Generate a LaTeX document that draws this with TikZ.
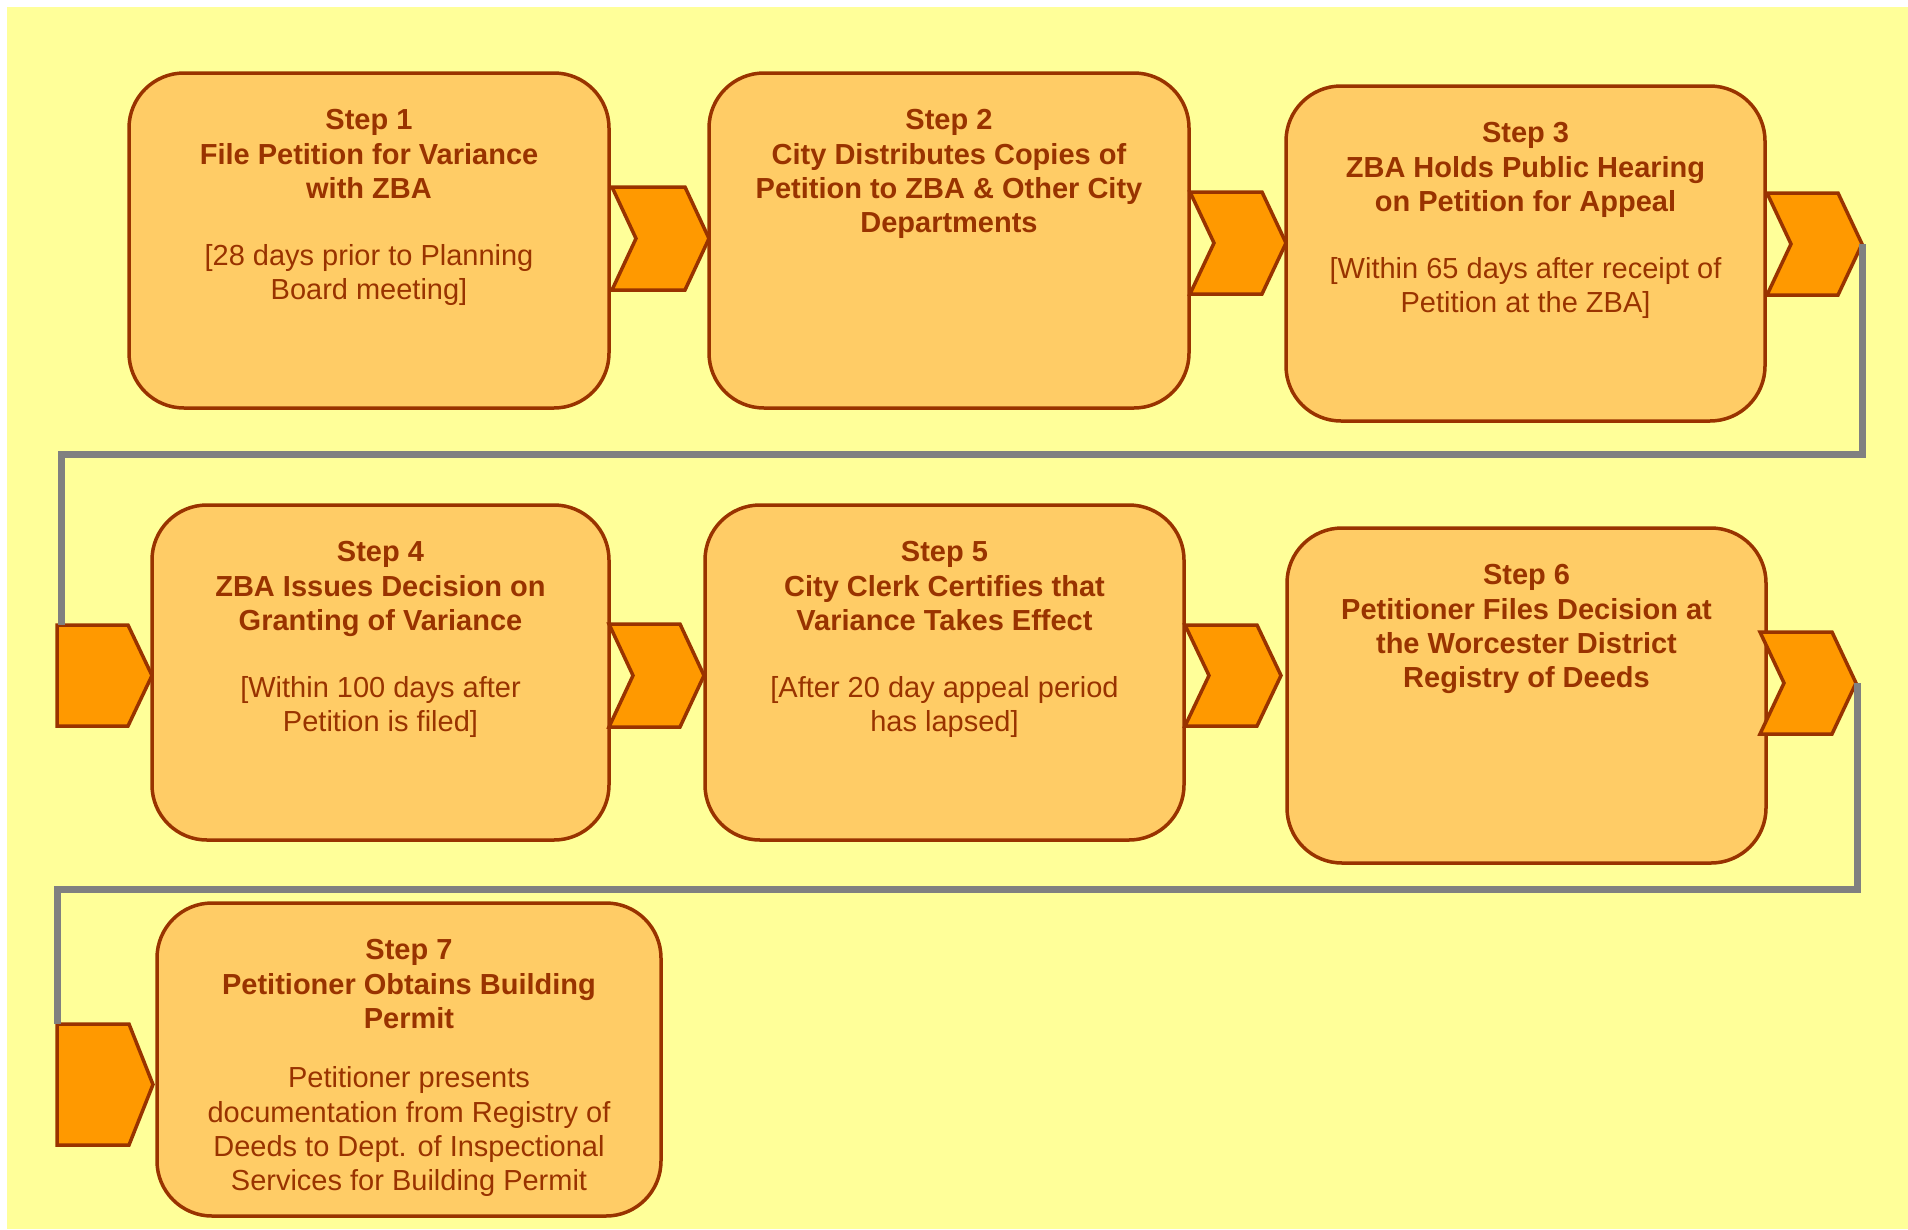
\documentclass[tikz,border=0pt]{standalone}
\usepackage{fontspec}
\setmainfont{Liberation Sans}
\usetikzlibrary{calc}
\definecolor{bgyellow}{HTML}{FFFF99}
\definecolor{boxfill}{HTML}{FFCC66}
\definecolor{brownline}{HTML}{993300}
\definecolor{chevfill}{HTML}{FF9900}
\definecolor{connGray}{HTML}{808080}
\tikzset{
  stepbox/.style={draw=brownline, fill=boxfill, line width=3.5pt, rounded corners=55pt, inner sep=0pt},
  steptext/.style={text=brownline, font=\fontsize{29}{34.2}\selectfont, align=center, inner sep=0pt, anchor=north},
  chevstyle/.style={draw=brownline, fill=chevfill, line width=3.5pt, line join=miter},
  conn/.style={draw=connGray, line width=7pt, line cap=butt, line join=miter}
}
% notched chevron: left, top, right, bottom
\newcommand\mychev[4]{\path[chevstyle] (#1,#2) -- ({#3-24},#2) -- (#3,{(#2+#4)/2}) -- ({#3-24},#4) -- (#1,#4) -- ({#1+24},{(#2+#4)/2}) -- cycle;}
% pentagon arrow: left, top, right, bottom
\newcommand\mypent[4]{\path[chevstyle] (#1,#2) -- ({#3-24},#2) -- (#3,{(#2+#4)/2}) -- ({#3-24},#4) -- (#1,#4) -- cycle;}
\begin{document}
\begin{tikzpicture}[x=1pt,y=-1pt]
\useasboundingbox (0,0) rectangle (1908,1229);
\fill[bgyellow] (7,7) rectangle (1908,1229);

% boxes
\node[stepbox, minimum width=480pt, minimum height=335pt] (b1) at (369,240.5) {};
\node[stepbox, minimum width=480pt, minimum height=335pt] (b2) at (949,240.5) {};
\node[stepbox, minimum width=479pt, minimum height=335pt] (b3) at (1525.5,253.5) {};
\node[stepbox, minimum width=457pt, minimum height=335pt] (b4) at (380.5,672.5) {};
\node[stepbox, minimum width=479pt, minimum height=335pt] (b5) at (944.5,672.5) {};
\node[stepbox, minimum width=479pt, minimum height=335pt] (b6) at (1526.5,695.5) {};
\node[stepbox, minimum width=504pt, minimum height=313pt] (b7) at (409,1059.5) {};

% texts
\node[steptext] (t1) at ($(b1.north)+(0,34.5)$) {\textbf{\strut Step 1}\\\textbf{File Petition for Variance}\\\textbf{with ZBA}\\[32.8pt][28 days prior to Planning\\Board meeting]};
\node[steptext] (t2) at ($(b2.north)+(0,34.5)$) {\textbf{\strut Step 2}\\\textbf{City Distributes Copies of}\\\textbf{Petition to ZBA \& Other City}\\\textbf{Departments}};
\node[steptext] (t3) at ($(b3.north)+(0,34.5)$) {\textbf{\strut Step 3}\\\textbf{ZBA Holds Public Hearing}\\\textbf{on Petition for Appeal}\\[32.8pt][Within 65 days after receipt of\\Petition at the ZBA]};
\node[steptext] (t4) at ($(b4.north)+(0,34.5)$) {\textbf{\strut Step 4}\\\textbf{ZBA Issues Decision on}\\\textbf{Granting of Variance}\\[32.8pt][Within 100 days after\\Petition is filed]};
\node[steptext] (t5) at ($(b5.north)+(0,34.5)$) {\textbf{\strut Step 5}\\\textbf{City Clerk Certifies that}\\\textbf{Variance Takes Effect}\\[32.8pt][After 20 day appeal period\\has lapsed]};
\node[steptext] (t6) at ($(b6.north)+(0,34.5)$) {\textbf{\strut Step 6}\\\textbf{Petitioner Files Decision at}\\\textbf{the Worcester District}\\\textbf{Registry of Deeds}};
\node[steptext] (t7) at ($(b7.north)+(0,34.5)$) {\textbf{\strut Step 7}\\\textbf{Petitioner Obtains Building}\\\textbf{Permit}\\[25.4pt]Petitioner presents\\documentation from Registry of\\Deeds to Dept. of Inspectional\\Services for Building Permit};

% chevrons
\mychev{612}{187}{709}{290}
\mychev{1190}{192}{1286}{294}
\mychev{1767}{193}{1862}{295}
\mypent{57}{625}{152}{726}
\mychev{609}{624}{704}{727}
\mychev{1185}{625}{1281}{726}
\mychev{1760}{632}{1856}{734}
\mypent{57}{1024}{153}{1145}

% connector coordinates
\coordinate (c3tip) at (1862,244);
\coordinate (row1turn) at (0,454);
\coordinate (c4top) at (61,625);
\coordinate (c7tip) at (1857,683);
\coordinate (row2turn) at (0,889);
\coordinate (c8top) at (57,1024);

\draw[conn] (c3tip) -- (c3tip |- row1turn) -| (c4top);
\draw[conn] (c7tip) -- (c7tip |- row2turn) -| (c8top);
\end{tikzpicture}
\end{document}
